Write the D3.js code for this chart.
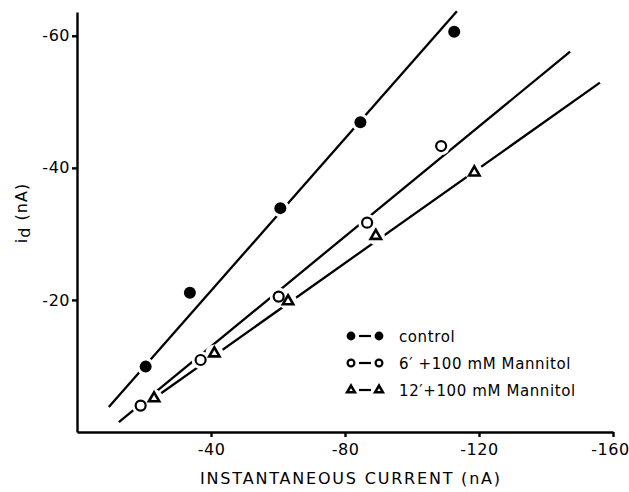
<!DOCTYPE html>
<html>
<head>
<meta charset="utf-8">
<script src="https://cdn.jsdelivr.net/npm/d3@7"></script>
<style>
  body { margin: 0; background: #fff; }
  svg text { font-family: "DejaVu Sans", sans-serif; fill: #000; }
</style>
</head>
<body>
<svg width="629" height="492"></svg>
<script>
// points (nA)
var controlX = [-20.5, -33.7, -60.7, -84.6, -112.6];
var controlY = [-9.9, -21.1, -33.9, -46.9, -60.6];
var mann6X = [-19.0, -36.9, -60.2, -86.6, -108.7];
var mann6Y = [-4.0, -10.9, -20.5, -31.7, -43.3];
var mann12X = [-23.0, -41.0, -63.0, -89.2, -118.6];
var mann12Y = [-5.1, -11.9, -19.8, -29.7, -39.3];

// end points of the fitted lines
var controlFitX = [-9.5, -113.4], controlFitY = [-3.8, -63.7];
var mann6FitX = [-12.5, -147.2], mann6FitY = [-1.5, -57.6];
var mann12FitX = [-21.0, -156.1], mann12FitY = [-4.4, -52.9];

var xTicks = [-40, -80, -120, -160];
var yTicks = [-20, -40, -60];
var legendLabels = ["control", "6\u2032 +100 mM Mannitol", "12\u2032+100 mM Mannitol"];
var legendShapes = ["filled", "open", "triangle"];

var svg = d3.select("svg");

var x = d3.scaleLinear().domain([0, -160]).range([77, 613]);
var y = d3.scaleLinear().domain([0, -63.6]).range([432, 12]);

function zip(xs, ys) {
    return xs.map(function(v, i) { return [v, ys[i]]; });
}

var series = [
    { pts: zip(controlX, controlY), fit: zip(controlFitX, controlFitY), shape: "filled" },
    { pts: zip(mann6X, mann6Y), fit: zip(mann6FitX, mann6FitY), shape: "open" },
    { pts: zip(mann12X, mann12Y), fit: zip(mann12FitX, mann12FitY), shape: "triangle" }
];

// axes
var xAxis = svg.append("g")
    .attr("transform", "translate(0,432)")
    .call(d3.axisBottom(x).tickValues(xTicks).tickSize(5).tickSizeOuter(0).tickPadding(7)
        .tickFormat(function(d) { return String(d); }));
var yAxis = svg.append("g")
    .attr("transform", "translate(77,0)")
    .call(d3.axisLeft(y).tickValues(yTicks).tickSize(5).tickSizeOuter(0).tickPadding(2)
        .tickFormat(function(d) { return String(d); }));

svg.selectAll(".domain, .tick line").attr("stroke", "#000").attr("stroke-width", 2.4);
svg.selectAll(".tick text")
    .style("font-family", "DejaVu Sans")
    .style("font-size", "16px")
    .style("letter-spacing", "0.5px");
// last label sits a little left of its tick so it stays on the page
xAxis.selectAll(".tick text").filter(function(d) { return d == -160; }).attr("dx", -3);

// fitted lines
var line = d3.line().x(function(d) { return x(d[0]); }).y(function(d) { return y(d[1]); });
svg.selectAll(".fit")
    .data(series)
    .enter()
    .append("path")
    .attr("class", "fit")
    .attr("d", function(s) { return line(s.fit); })
    .attr("stroke", "#000")
    .attr("stroke-width", 2.3)
    .attr("fill", "none");

// white gaps where the markers break the lines
var allPts = [];
series.forEach(function(s) { s.pts.forEach(function(p) { allPts.push(p); }); });
svg.selectAll(".halo")
    .data(allPts)
    .enter()
    .append("circle")
    .attr("class", "halo")
    .attr("cx", function(d) { return x(d[0]); })
    .attr("cy", function(d) { return y(d[1]); })
    .attr("r", 9)
    .attr("fill", "#fff");

function drawMarker(g, shape, size) {
    if (shape == "filled") {
        g.append("circle").attr("r", size).attr("fill", "#000");
    } else if (shape == "open") {
        g.append("circle").attr("r", size - 1).attr("fill", "#fff")
            .attr("stroke", "#000").attr("stroke-width", 2.2);
    } else {
        g.append("path")
            .attr("d", d3.symbol().type(d3.symbolTriangle).size(size * size * 1.3))
            .attr("fill", "#fff").attr("stroke", "#000").attr("stroke-width", 2.6);
    }
}

series.forEach(function(s) {
    s.pts.forEach(function(p) {
        var g = svg.append("g")
            .attr("transform", "translate(" + x(p[0]) + "," + y(p[1]) + ")");
        drawMarker(g, s.shape, 6);
    });
});

// axis titles
svg.append("text")
    .attr("x", 351)
    .attr("y", 484)
    .attr("text-anchor", "middle")
    .style("font-size", "16px")
    .style("letter-spacing", "1.8px")
    .text("INSTANTANEOUS CURRENT (nA)");

var yt = svg.append("text")
    .attr("transform", "translate(27,213) rotate(-90)")
    .attr("text-anchor", "middle")
    .style("font-size", "16px")
    .style("letter-spacing", "1px");
yt.append("tspan").text("i");
yt.append("tspan").attr("dy", 3).text("d");
yt.append("tspan").attr("dy", -3).text(" (nA)");

// legend
var legend = svg.append("g").attr("transform", "translate(351,336)");
legendLabels.forEach(function(label, i) {
    var row = legend.append("g").attr("transform", "translate(0," + (i * 27) + ")");
    var m1 = row.append("g");
    drawMarker(m1, legendShapes[i], 4.4);
    var m2 = row.append("g").attr("transform", "translate(28,0)");
    drawMarker(m2, legendShapes[i], 4.4);
    row.append("line")
        .attr("x1", 8).attr("x2", 20)
        .attr("y1", 0).attr("y2", 0)
        .attr("stroke", "#000").attr("stroke-width", 2.2);
    row.append("text")
        .attr("x", 48)
        .attr("y", 5.5)
        .style("font-size", "15px")
        .style("letter-spacing", "0.6px")
        .text(label);
});
</script>
</body>
</html>
